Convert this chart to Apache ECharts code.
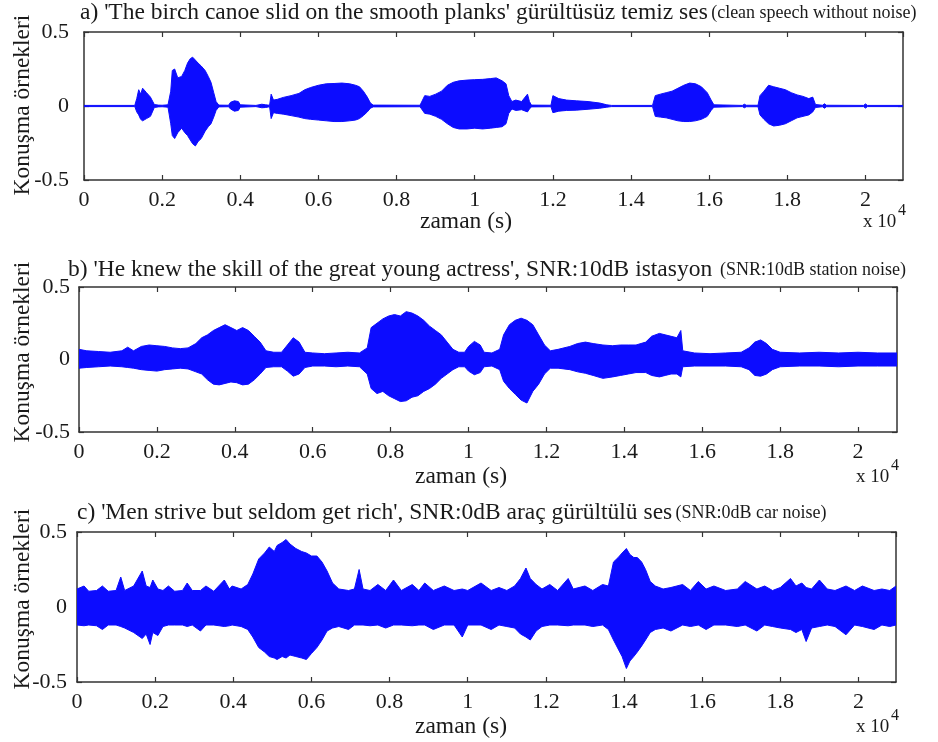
<!DOCTYPE html>
<html>
<head>
<meta charset="UTF-8">
<title>speech waveforms</title>
<script src="https://cdn.jsdelivr.net/npm/echarts@6/dist/echarts.min.js"></script>
<style>
  html, body { margin: 0; padding: 0; background: #fff; }
  #main { width: 938px; height: 742px; }
</style>
</head>
<body>
<div id="main"></div>
<script>
// envelope of each waveform (time in x10^4 samples)
// a) clean speech
var timeA = [0, 0.13, 0.135, 0.14, 0.145, 0.15, 0.16, 0.17, 0.18, 0.19, 0.2, 0.215, 0.222, 0.226, 0.232, 0.24, 0.25, 0.258, 0.265, 0.272, 0.278, 0.285, 0.292, 0.3, 0.31, 0.318, 0.325, 0.332, 0.338, 0.345, 0.37, 0.375, 0.385, 0.395, 0.4, 0.44, 0.455, 0.465, 0.475, 0.479, 0.485, 0.495, 0.51, 0.53, 0.55, 0.565, 0.58, 0.6, 0.62, 0.64, 0.66, 0.68, 0.695, 0.705, 0.715, 0.725, 0.733, 0.74, 0.86, 0.872, 0.885, 0.9, 0.915, 0.93, 0.945, 0.96, 0.98, 1.0, 1.02, 1.04, 1.055, 1.07, 1.08, 1.087, 1.095, 1.105, 1.12, 1.135, 1.14, 1.145, 1.195, 1.2, 1.215, 1.235, 1.26, 1.29, 1.32, 1.338, 1.35, 1.455, 1.462, 1.475, 1.49, 1.505, 1.52, 1.535, 1.55, 1.565, 1.58, 1.595, 1.605, 1.612, 1.685, 1.69, 1.695, 1.725, 1.73, 1.74, 1.752, 1.765, 1.78, 1.795, 1.81, 1.825, 1.84, 1.855, 1.865, 1.872, 1.89, 1.895, 1.9, 1.995, 2.0, 2.005, 2.096];
var upperA = [0.004, 0.004, 0.05, 0.11, 0.08, 0.12, 0.09, 0.06, 0.01, 0.006, 0.005, 0.008, 0.1, 0.24, 0.25, 0.19, 0.2, 0.24, 0.29, 0.32, 0.33, 0.31, 0.29, 0.27, 0.24, 0.2, 0.16, 0.09, 0.03, 0.006, 0.005, 0.025, 0.035, 0.03, 0.008, 0.004, 0.012, 0.008, 0.005, 0.08, 0.04, 0.045, 0.058, 0.07, 0.085, 0.11, 0.125, 0.14, 0.15, 0.152, 0.155, 0.15, 0.14, 0.13, 0.1, 0.06, 0.02, 0.006, 0.005, 0.07, 0.065, 0.08, 0.1, 0.14, 0.16, 0.17, 0.175, 0.178, 0.18, 0.185, 0.19, 0.17, 0.15, 0.07, 0.03, 0.04, 0.03, 0.08, 0.03, 0.006, 0.005, 0.07, 0.05, 0.04, 0.035, 0.03, 0.02, 0.008, 0.004, 0.004, 0.07, 0.08, 0.09, 0.1, 0.12, 0.14, 0.155, 0.15, 0.13, 0.09, 0.04, 0.008, 0.004, 0.012, 0.005, 0.005, 0.07, 0.1, 0.14, 0.13, 0.12, 0.11, 0.09, 0.075, 0.065, 0.05, 0.06, 0.01, 0.005, 0.015, 0.005, 0.004, 0.014, 0.004, 0.004];
var lowerA = [-0.004, -0.004, -0.04, -0.06, -0.09, -0.1, -0.085, -0.07, -0.01, -0.006, -0.005, -0.008, -0.12, -0.2, -0.22, -0.18, -0.15, -0.18, -0.2, -0.23, -0.255, -0.27, -0.24, -0.22, -0.17, -0.14, -0.12, -0.075, -0.03, -0.006, -0.005, -0.02, -0.035, -0.03, -0.008, -0.004, -0.012, -0.01, -0.005, -0.085, -0.045, -0.05, -0.055, -0.065, -0.075, -0.085, -0.09, -0.095, -0.1, -0.105, -0.105, -0.1, -0.095, -0.085, -0.065, -0.04, -0.015, -0.006, -0.005, -0.05, -0.055, -0.07, -0.09, -0.12, -0.145, -0.155, -0.155, -0.15, -0.155, -0.15, -0.145, -0.14, -0.12, -0.05, -0.02, -0.03, -0.025, -0.04, -0.02, -0.006, -0.005, -0.045, -0.035, -0.03, -0.028, -0.022, -0.015, -0.008, -0.004, -0.004, -0.07, -0.075, -0.08, -0.09, -0.1, -0.105, -0.105, -0.1, -0.09, -0.07, -0.03, -0.008, -0.004, -0.012, -0.005, -0.005, -0.06, -0.09, -0.12, -0.135, -0.13, -0.12, -0.1, -0.08, -0.07, -0.06, -0.04, -0.01, -0.005, -0.015, -0.005, -0.004, -0.014, -0.004, -0.004];

// b) station noise, SNR 10 dB
var timeB = [0, 0.02, 0.05, 0.08, 0.11, 0.125, 0.14, 0.16, 0.18, 0.2, 0.22, 0.24, 0.26, 0.28, 0.3, 0.315, 0.33, 0.345, 0.36, 0.375, 0.39, 0.405, 0.42, 0.435, 0.45, 0.465, 0.48, 0.5, 0.52, 0.535, 0.55, 0.565, 0.58, 0.6, 0.63, 0.66, 0.69, 0.72, 0.74, 0.75, 0.765, 0.78, 0.795, 0.81, 0.825, 0.84, 0.855, 0.87, 0.885, 0.9, 0.915, 0.93, 0.945, 0.96, 0.975, 0.99, 1.0, 1.015, 1.03, 1.04, 1.06, 1.08, 1.09, 1.105, 1.12, 1.135, 1.15, 1.165, 1.18, 1.195, 1.21, 1.23, 1.26, 1.28, 1.3, 1.32, 1.345, 1.37, 1.39, 1.41, 1.43, 1.455, 1.47, 1.49, 1.505, 1.52, 1.535, 1.545, 1.55, 1.58, 1.62, 1.66, 1.7, 1.72, 1.735, 1.75, 1.765, 1.78, 1.8, 1.85, 1.9, 1.95, 2.0, 2.05, 2.1];
var upperB = [0.07, 0.06, 0.055, 0.05, 0.06, 0.085, 0.06, 0.09, 0.1, 0.095, 0.09, 0.08, 0.075, 0.08, 0.11, 0.15, 0.17, 0.2, 0.22, 0.24, 0.22, 0.2, 0.22, 0.2, 0.16, 0.12, 0.06, 0.05, 0.05, 0.1, 0.15, 0.12, 0.05, 0.045, 0.04, 0.045, 0.05, 0.045, 0.08, 0.22, 0.25, 0.28, 0.3, 0.31, 0.3, 0.33, 0.32, 0.3, 0.27, 0.23, 0.2, 0.17, 0.12, 0.07, 0.05, 0.05, 0.09, 0.125, 0.1, 0.05, 0.045, 0.07, 0.17, 0.24, 0.27, 0.285, 0.27, 0.24, 0.17, 0.1, 0.06, 0.07, 0.09, 0.11, 0.12, 0.11, 0.1, 0.095, 0.1, 0.1, 0.1, 0.12, 0.16, 0.18, 0.17, 0.16, 0.15, 0.2, 0.06, 0.045, 0.04, 0.045, 0.05, 0.08, 0.12, 0.135, 0.11, 0.07, 0.05, 0.045, 0.05, 0.045, 0.05, 0.045, 0.045];
var lowerB = [-0.06, -0.055, -0.05, -0.045, -0.05, -0.055, -0.06, -0.07, -0.075, -0.08, -0.07, -0.065, -0.06, -0.065, -0.085, -0.1, -0.14, -0.17, -0.175, -0.165, -0.155, -0.16, -0.175, -0.17, -0.14, -0.1, -0.055, -0.05, -0.05, -0.08, -0.115, -0.1, -0.055, -0.045, -0.045, -0.05, -0.045, -0.05, -0.1, -0.2, -0.235, -0.22, -0.25, -0.27, -0.29, -0.285, -0.26, -0.25, -0.22, -0.2, -0.17, -0.13, -0.1, -0.07, -0.05, -0.05, -0.08, -0.105, -0.09, -0.05, -0.045, -0.07, -0.15, -0.2, -0.24, -0.28, -0.3, -0.22, -0.17, -0.1, -0.06, -0.06, -0.07, -0.085, -0.095, -0.11, -0.13, -0.12, -0.11, -0.1, -0.09, -0.09, -0.11, -0.12, -0.11, -0.1, -0.1, -0.12, -0.05, -0.045, -0.045, -0.045, -0.05, -0.07, -0.11, -0.115, -0.1, -0.07, -0.05, -0.045, -0.045, -0.05, -0.045, -0.045, -0.045];

// c) car noise, SNR 0 dB
var timeC = [0, 0.018, 0.03, 0.05, 0.065, 0.08, 0.1, 0.112, 0.122, 0.145, 0.167, 0.177, 0.187, 0.194, 0.207, 0.22, 0.234, 0.25, 0.27, 0.282, 0.295, 0.316, 0.33, 0.35, 0.377, 0.39, 0.397, 0.42, 0.437, 0.45, 0.465, 0.48, 0.492, 0.505, 0.512, 0.525, 0.535, 0.545, 0.56, 0.575, 0.587, 0.6, 0.614, 0.627, 0.64, 0.654, 0.67, 0.695, 0.71, 0.722, 0.732, 0.75, 0.77, 0.79, 0.81, 0.83, 0.858, 0.875, 0.89, 0.912, 0.94, 0.965, 0.986, 1.0, 1.034, 1.06, 1.08, 1.1, 1.12, 1.135, 1.149, 1.16, 1.175, 1.19, 1.21, 1.23, 1.257, 1.27, 1.3, 1.32, 1.345, 1.36, 1.373, 1.385, 1.395, 1.406, 1.415, 1.425, 1.434, 1.445, 1.455, 1.467, 1.48, 1.5, 1.52, 1.55, 1.57, 1.59, 1.61, 1.63, 1.66, 1.69, 1.71, 1.74, 1.76, 1.78, 1.8, 1.826, 1.84, 1.855, 1.866, 1.88, 1.9, 1.92, 1.94, 1.968, 1.99, 2.01, 2.04, 2.06, 2.08, 2.096];
var upperC = [0.12, 0.14, 0.105, 0.11, 0.14, 0.105, 0.11, 0.2, 0.11, 0.14, 0.24, 0.14, 0.13, 0.18, 0.12, 0.11, 0.14, 0.105, 0.11, 0.16, 0.11, 0.11, 0.14, 0.105, 0.18, 0.12, 0.14, 0.12, 0.15, 0.22, 0.32, 0.36, 0.4, 0.37, 0.41, 0.43, 0.45, 0.42, 0.39, 0.37, 0.36, 0.34, 0.34, 0.3, 0.24, 0.16, 0.12, 0.11, 0.12, 0.25, 0.12, 0.11, 0.15, 0.11, 0.18, 0.11, 0.15, 0.11, 0.16, 0.11, 0.14, 0.11, 0.12, 0.11, 0.16, 0.11, 0.13, 0.11, 0.14, 0.19, 0.26, 0.19, 0.15, 0.12, 0.15, 0.11, 0.19, 0.12, 0.14, 0.11, 0.15, 0.14, 0.3, 0.33, 0.36, 0.39, 0.35, 0.33, 0.33, 0.3, 0.25, 0.17, 0.14, 0.12, 0.13, 0.15, 0.11, 0.17, 0.12, 0.14, 0.11, 0.12, 0.17, 0.12, 0.14, 0.11, 0.13, 0.19, 0.14, 0.16, 0.13, 0.12, 0.18, 0.12, 0.11, 0.14, 0.11, 0.14, 0.11, 0.12, 0.11, 0.14];
var lowerC = [-0.12, -0.125, -0.12, -0.125, -0.15, -0.12, -0.12, -0.13, -0.14, -0.17, -0.21, -0.18, -0.25, -0.17, -0.19, -0.13, -0.12, -0.12, -0.12, -0.13, -0.12, -0.16, -0.12, -0.12, -0.13, -0.125, -0.12, -0.13, -0.15, -0.2, -0.27, -0.3, -0.33, -0.34, -0.35, -0.33, -0.34, -0.32, -0.33, -0.34, -0.35, -0.31, -0.27, -0.22, -0.16, -0.14, -0.13, -0.15, -0.12, -0.12, -0.12, -0.125, -0.12, -0.14, -0.12, -0.12, -0.125, -0.12, -0.12, -0.15, -0.12, -0.12, -0.2, -0.12, -0.12, -0.15, -0.12, -0.13, -0.14, -0.18, -0.2, -0.22, -0.16, -0.13, -0.12, -0.12, -0.125, -0.12, -0.12, -0.13, -0.12, -0.15, -0.22, -0.28, -0.33, -0.41, -0.36, -0.33, -0.3, -0.26, -0.22, -0.17, -0.15, -0.14, -0.16, -0.12, -0.13, -0.12, -0.15, -0.12, -0.12, -0.13, -0.12, -0.16, -0.12, -0.13, -0.14, -0.15, -0.17, -0.15, -0.23, -0.14, -0.13, -0.12, -0.13, -0.185, -0.12, -0.13, -0.15, -0.12, -0.13, -0.12];

var xTicks = ['0', '0.2', '0.4', '0.6', '0.8', '1', '1.2', '1.4', '1.6', '1.8', '2'];
var yTicks = ['-0.5', '0', '0.5'];

var titles = [
  ["a) 'The birch canoe slid on the smooth planks' gürültüsüz temiz ses", '(clean speech without noise)'],
  ["b) 'He knew the skill of the great young actress', SNR:10dB istasyon", ' (SNR:10dB station noise)'],
  ["c) 'Men strive but seldom get rich', SNR:0dB araç gürültülü ses", '(SNR:0dB car noise)']
];

var FONT = 'Liberation Serif';
var INK = '#1a1a1a';
var WAVE = '#0c0cff';

var panels = [
  { grid: { left: 84, top: 32, width: 819, height: 148 }, xmax: 2.096, t: timeA, hi: upperA, lo: lowerA,
    title: [80, 13], yname: [23, 105], xname: [466, 222], pow: [863, 222], ymargin: 15 },
  { grid: { left: 79, top: 287, width: 818, height: 145 }, xmax: 2.1, t: timeB, hi: upperB, lo: lowerB,
    title: [68, 270], yname: [23, 352], xname: [461, 477], pow: [856, 477], ymargin: 9 },
  { grid: { left: 77, top: 532, width: 819, height: 150 }, xmax: 2.096, t: timeC, hi: upperC, lo: lowerC,
    title: [77, 513], yname: [23, 599], xname: [461, 727], pow: [856, 727], ymargin: 10 }
];

var myChart = echarts.init(document.getElementById('main'));

var grids = [], xAxes = [], yAxes = [], series = [], graphics = [];
var axisLine = { show: true, onZero: false, lineStyle: { color: '#333', width: 1.5 } };
var tick = { show: true, inside: true, length: 5, lineStyle: { color: '#333', width: 1.2 } };

panels.forEach(function (p, i) {
  grids.push(p.grid);
  xAxes.push({
    type: 'value', gridIndex: i, position: 'bottom', min: 0, max: p.xmax, interval: 0.2,
    axisLine: axisLine, axisTick: tick, splitLine: { show: false },
    axisLabel: {
      margin: 9, fontFamily: FONT, fontSize: 22, color: INK, showMaxLabel: false,
      formatter: function (v) { var k = Math.round(v / 0.2); return k < xTicks.length ? xTicks[k] : ''; }
    }
  });
  xAxes.push({
    type: 'value', gridIndex: i, position: 'top', min: 0, max: p.xmax, interval: 0.2,
    axisLine: axisLine, axisTick: tick, axisLabel: { show: false }, splitLine: { show: false }
  });
  yAxes.push({
    type: 'value', gridIndex: i, position: 'left', min: -0.5, max: 0.5, interval: 0.5,
    axisLine: axisLine, axisTick: tick, splitLine: { show: false },
    axisLabel: {
      margin: p.ymargin, fontFamily: FONT, fontSize: 22, color: INK,
      formatter: function (v) { return yTicks[Math.round(v / 0.5) + 1]; }
    }
  });
  yAxes.push({
    type: 'value', gridIndex: i, position: 'right', min: -0.5, max: 0.5, interval: 0.5,
    axisLine: axisLine, axisTick: tick, axisLabel: { show: false }, splitLine: { show: false }
  });

  var pts = p.t.map(function (t, k) { return [t, p.hi[k], p.lo[k]]; });
  series.push({
    type: 'custom', xAxisIndex: i * 2, yAxisIndex: i * 2, silent: true, clip: true,
    data: pts,
    encode: { x: 0, y: [1, 2] },
    renderItem: function (params, api) {
      if (params.dataIndex !== 0) return;
      var poly = [];
      for (var k = 0; k < pts.length; k++) poly.push(api.coord([pts[k][0], pts[k][1]]));
      for (var k = pts.length - 1; k >= 0; k--) poly.push(api.coord([pts[k][0], pts[k][2]]));
      return {
        type: 'polygon',
        shape: { points: poly },
        style: { fill: WAVE, stroke: WAVE, lineWidth: 1 }
      };
    }
  });

  graphics.push({
    type: 'text', x: p.title[0], y: p.title[1],
    style: {
      text: '{m|' + titles[i][0] + '} {s|' + titles[i][1] + '}',
      verticalAlign: 'middle', fill: INK,
      rich: {
        m: { fontFamily: FONT, fontSize: 23.5, fill: INK },
        s: { fontFamily: FONT, fontSize: 18, fill: INK }
      }
    }
  });
  graphics.push({
    type: 'text', x: p.yname[0], y: p.yname[1], rotation: Math.PI / 2,
    style: { text: 'Konuşma örnekleri', align: 'center', verticalAlign: 'middle', fill: INK, font: '23.5px ' + FONT }
  });
  graphics.push({
    type: 'text', x: p.xname[0], y: p.xname[1],
    style: { text: 'zaman (s)', align: 'center', verticalAlign: 'middle', fill: INK, font: '23.5px ' + FONT }
  });
  graphics.push({
    type: 'text', x: p.pow[0], y: p.pow[1],
    style: { text: 'x 10', align: 'left', verticalAlign: 'middle', fill: INK, font: '19px ' + FONT }
  });
  graphics.push({
    type: 'text', x: p.pow[0] + 35, y: p.pow[1] - 11,
    style: { text: '4', align: 'left', verticalAlign: 'middle', fill: INK, font: '16px ' + FONT }
  });
});

myChart.setOption({
  animation: false,
  backgroundColor: '#fff',
  grid: grids,
  xAxis: xAxes,
  yAxis: yAxes,
  series: series,
  graphic: graphics
});
</script>
</body>
</html>
